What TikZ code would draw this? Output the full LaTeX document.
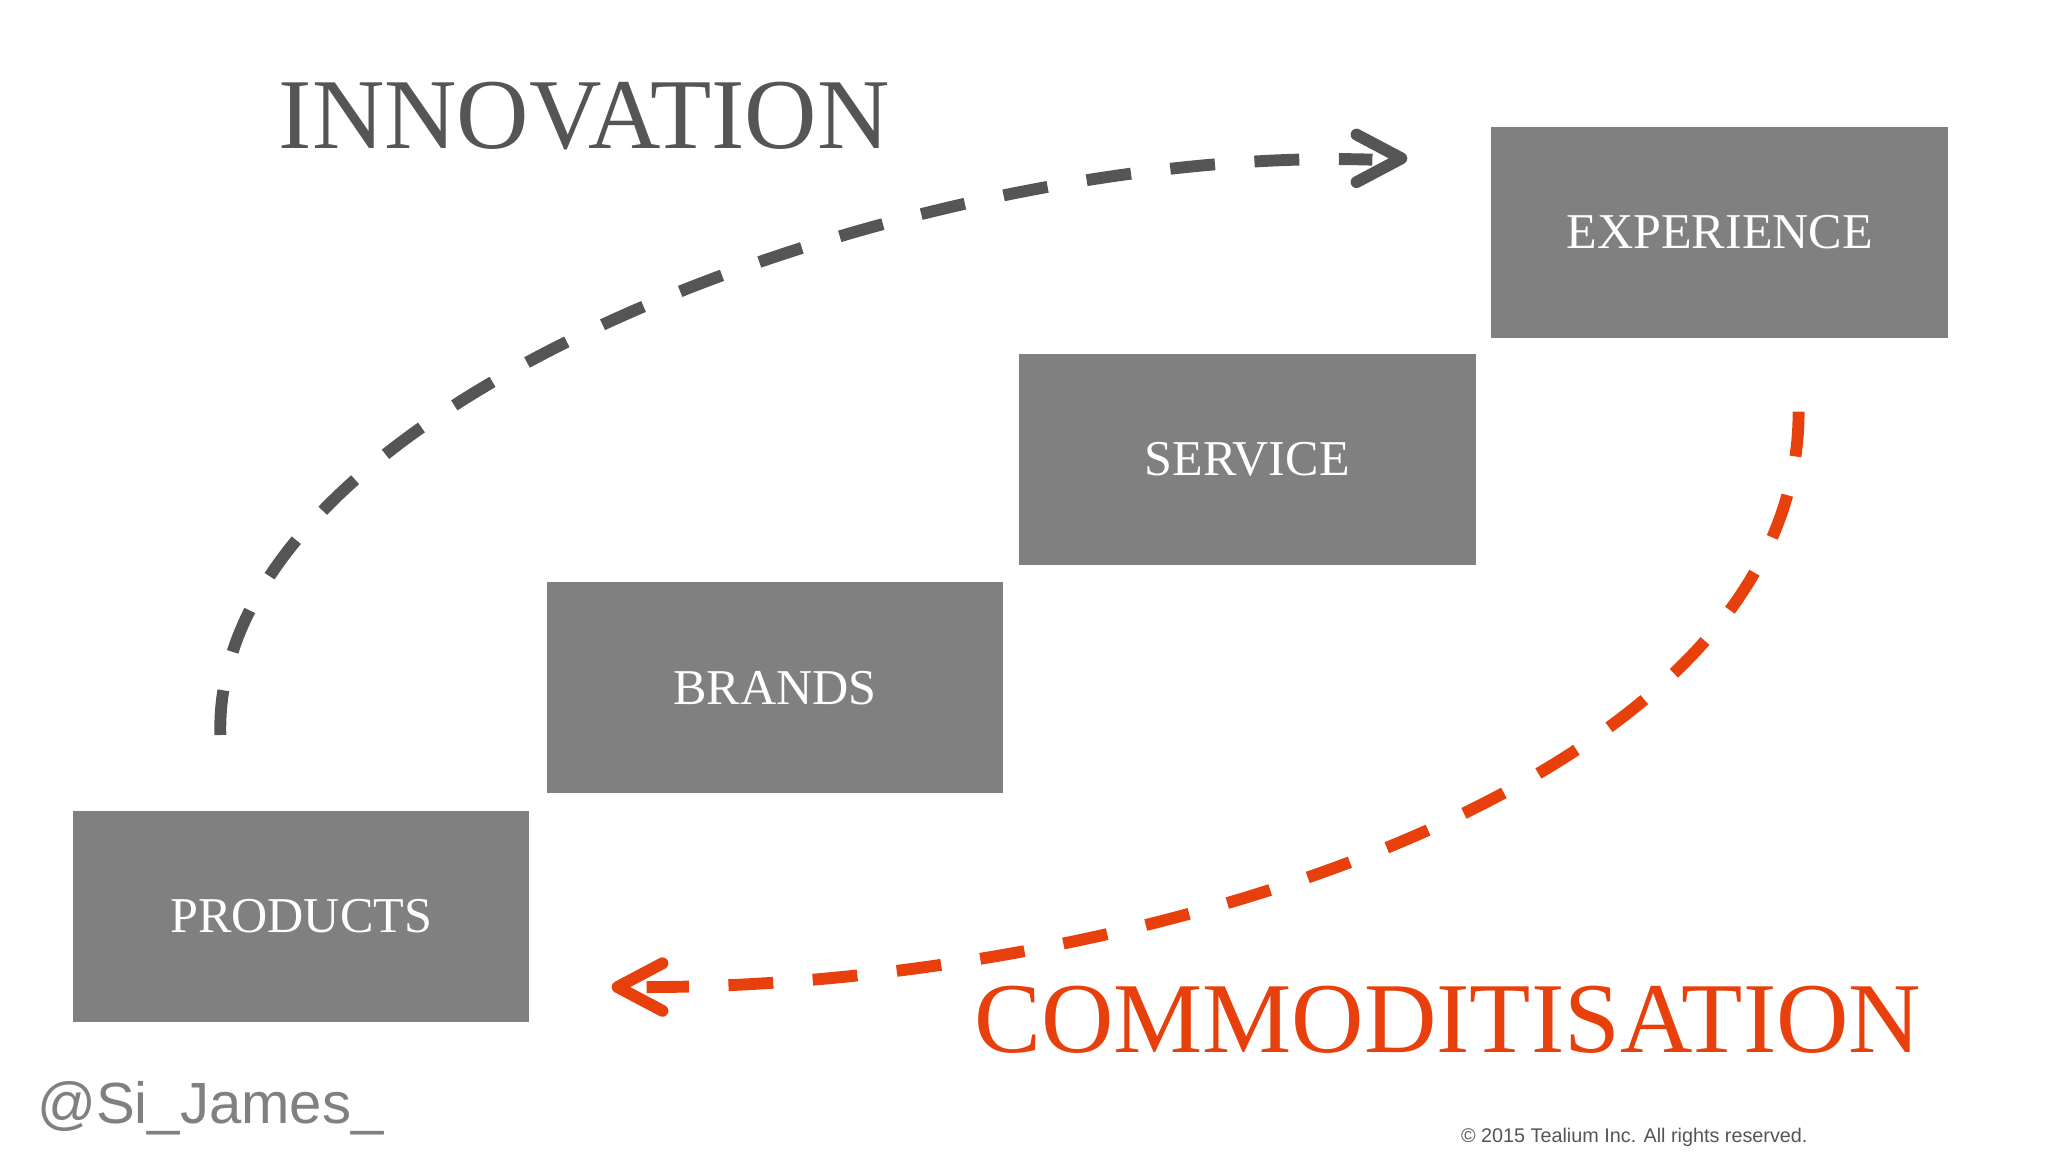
\documentclass[tikz,border=0pt]{standalone}
\usepackage{fontspec}
\setsansfont{Liberation Sans}
\setmainfont{Liberation Serif}
\begin{document}
\begin{tikzpicture}[x=1pt,y=-1pt]
\definecolor{boxgray}{HTML}{808080}
\definecolor{dgray}{HTML}{555555}
\definecolor{ored}{HTML}{E8400C}
\useasboundingbox (0,0) rectangle (1552,873);
\tikzset{stage/.style={fill=boxgray,minimum width=346pt,minimum height=160pt,text=white,font=\fontsize{38}{40}\selectfont,anchor=north west,inner sep=0},
 flow/.style={line width=9pt,dash pattern=on 34pt off 30pt}}
\node[stage] (exp) at (1130,96) {EXPERIENCE};
\node[stage] (ser) at (772,268) {SERVICE};
\node[stage] (bra) at (414,441) {BRANDS};
\node[stage] (pro) at (55,614) {PRODUCTS};
\node[text=dgray,font=\fontsize{76}{80}\selectfont,anchor=west,inner sep=0] (inn) at (211,88) {INNOVATION};
\node[text=ored,font=\fontsize{76}{80}\selectfont,anchor=west,inner sep=0] (com) at (738,773) {COMMODITISATION};
\node[text=gray,font=\sffamily\fontsize{44}{46}\selectfont,anchor=west,inner sep=0] (si) at (28,840) {@Si\_James\_};
\node[text=dgray,font=\sffamily\fontsize{15}{16}\selectfont,anchor=west,inner sep=0] (cp) at (1107,862) {© 2015 Tealium Inc. All rights reserved.};
\coordinate (g1) at (167,557);
\coordinate (g2) at (1040,121);
\coordinate (r1) at (1363,312);
\coordinate (r2) at (490,748);
\draw[flow,dgray] (g1) .. controls (160,300) and (700,110) .. (g2);
\draw[flow,ored] (r1) .. controls (1363,600) and (850,748) .. (r2);
\draw[dgray,line width=9pt,line cap=round,line join=round] (1028,102) -- (1062,120) -- (1028,138);
\draw[ored,line width=9pt,line cap=round,line join=round] (502,730) -- (468,748) -- (502,766);
\end{tikzpicture}
\end{document}
